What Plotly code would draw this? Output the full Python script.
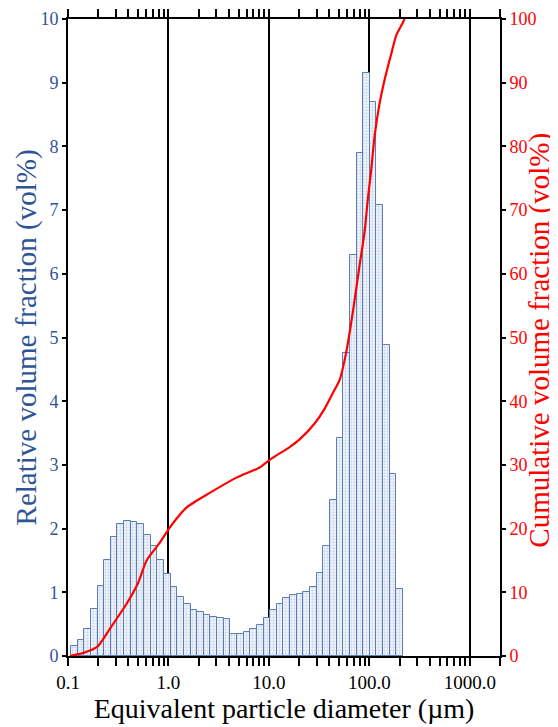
import numpy as np
import plotly.graph_objects as go

# ---- data ----
# bin edges of the volume-fraction histogram, in µm
bin_edges_um = [0.1072, 0.1248, 0.1453, 0.1692, 0.1970, 0.2294, 0.2671, 0.3110, 0.3621, 0.4216,
                0.4909, 0.5716, 0.6655, 0.7749, 0.9023, 1.051, 1.223, 1.424, 1.659, 1.931,
                2.249, 2.618, 3.049, 3.550, 4.134, 4.813, 5.604, 6.526, 7.598, 8.847,
                10.30, 12.00, 13.97, 16.27, 18.94, 22.05, 25.68, 29.90, 34.82, 40.54,
                47.21, 54.97, 64.01, 74.53, 86.78, 101.0, 117.7, 137.0, 159.5, 185.8, 216.3]
# relative volume fraction (vol%) per bin
relative_vol = [0.15, 0.25, 0.43, 0.74, 1.10, 1.51, 1.87, 2.07, 2.12, 2.11,
                2.07, 1.90, 1.72, 1.50, 1.29, 1.08, 0.93, 0.81, 0.73, 0.69,
                0.65, 0.61, 0.59, 0.58, 0.34, 0.34, 0.37, 0.43, 0.49, 0.60,
                0.73, 0.82, 0.91, 0.95, 0.98, 1.00, 1.08, 1.31, 1.72, 2.45,
                3.43, 4.76, 6.30, 7.89, 9.15, 8.70, 7.08, 4.89, 2.86, 1.05]
# cumulative curve
cum_diam_um = [0.1047, 0.144, 0.197, 0.2616, 0.3834, 0.4997, 0.6058, 0.821, 1.033, 1.513,
               2.579, 4.753, 8.10, 10.18, 12.81, 16.10, 20.24, 28.53, 35.86, 43.08,
               50.55, 58.94, 68.55, 79.91, 89.6, 96.6, 104.4, 112.6, 126.3, 141.6,
               165.1, 185.1, 215.3, 223.9]
cum_vol = [0.0, 0.5, 1.5, 4.3, 8.2, 11.5, 15.0, 17.8, 20.2, 23.3,
           25.6, 28.0, 29.6, 30.8, 31.8, 32.8, 34.0, 36.5, 38.8, 41.2,
           43.3, 47.7, 54.0, 61.3, 66.5, 71.7, 76.3, 81.5, 86.7, 90.4,
           94.5, 97.4, 99.4, 100.0]

x_tick_vals_um = [0.1, 1, 10, 100, 1000]
x_tick_text = ["0.1", "1.0", "10.0", "100.0", "1000.0"]
x_max_um = 2000

BLUE = "#2F5597"
RED = "#FF0000"
FONT = "Liberation Serif"

# ---- derived positions on a log10 scale ----
le = np.log10(np.array(bin_edges_um))
centers = (le[:-1] + le[1:]) / 2
widths = le[1:] - le[:-1]
x_range = [float(np.log10(0.1)), float(np.log10(x_max_um))]
major_vals = [float(np.log10(v)) for v in x_tick_vals_um]

minor_vals = []
for p in range(-1, 4):
    for k in range(2, 10):
        v = k * 10 ** p
        if v <= x_max_um:
            minor_vals.append(float(np.log10(v)))

fig = go.Figure()
fig.add_trace(go.Bar(
    x=centers, y=relative_vol, width=widths,
    marker=dict(color="white",
                line=dict(color="#5b7db4", width=1),
                pattern=dict(shape=".", fgcolor="#9bb3da", bgcolor="#f7f9fd",
                             size=3, solidity=0.45)),
    yaxis="y", showlegend=False,
))
fig.add_trace(go.Scatter(
    x=np.log10(np.array(cum_diam_um)), y=cum_vol, mode="lines",
    line=dict(color=RED, width=2.2, shape="spline", smoothing=0.6),
    yaxis="y2", showlegend=False,
))

# page body adds an 8px offset, so the figure is 8px smaller than the window
fig.update_layout(
    width=550, height=719,
    margin=dict(l=60, r=58, t=11, b=71, autoexpand=False),
    paper_bgcolor="white", plot_bgcolor="white",
    font=dict(family=FONT, color="black"),
    bargap=0,
    xaxis=dict(
        range=x_range,
        tickmode="array", tickvals=major_vals, ticktext=x_tick_text,
        ticks="outside", ticklen=8, tickwidth=1.5, tickcolor="black",
        minor=dict(tickvals=minor_vals, ticks="outside", ticklen=6, tickwidth=1.5,
                   tickcolor="black", showgrid=False),
        showgrid=True, gridcolor="black", gridwidth=1.5,
        showline=True, linecolor="black", linewidth=2, mirror="allticks",
        zeroline=False, automargin=False, ticklabeloverflow="allow",
        tickfont=dict(family=FONT, size=19, color="black"),
        title=dict(text="Equivalent particle diameter (µm)",
                   font=dict(family=FONT, size=28, color="black"), standoff=4),
    ),
    # inner halves of the crossing ticks on the top border
    xaxis2=dict(
        range=x_range, overlaying="x", side="top", anchor="y",
        tickmode="array", tickvals=major_vals, ticks="inside", ticklen=4,
        tickwidth=1.5, tickcolor="black", showticklabels=False,
        minor=dict(tickvals=minor_vals, ticks="inside", ticklen=4, tickwidth=1.5,
                   tickcolor="black", showgrid=False),
        showgrid=False, zeroline=False, showline=False, automargin=False,
    ),
    yaxis=dict(
        range=[0, 10], dtick=1, tick0=0,
        ticks="outside", ticklen=4, tickwidth=1.5, tickcolor="black",
        showgrid=False, zeroline=False, automargin=False, ticklabeloverflow="allow",
        showline=True, linecolor="black", linewidth=2,
        tickfont=dict(family=FONT, size=18, color=BLUE),
    ),
    yaxis2=dict(
        range=[0, 100], dtick=10, tick0=0, overlaying="y", side="right",
        ticks="outside", ticklen=4, tickwidth=1.5, tickcolor="black",
        showgrid=False, zeroline=False, automargin=False, ticklabeloverflow="allow",
        showline=True, linecolor="black", linewidth=2,
        tickfont=dict(family=FONT, size=18, color=RED),
    ),
    yaxis3=dict(
        range=[0, 10], dtick=1, tick0=0, overlaying="y", side="left", anchor="x",
        ticks="inside", ticklen=3, tickwidth=1.5, tickcolor="black",
        showticklabels=False, showgrid=False, zeroline=False, showline=False,
        automargin=False,
    ),
    yaxis4=dict(
        range=[0, 100], dtick=10, tick0=0, overlaying="y", side="right", anchor="x",
        ticks="inside", ticklen=3, tickwidth=1.5, tickcolor="black",
        showticklabels=False, showgrid=False, zeroline=False, showline=False,
        automargin=False,
    ),
    annotations=[
        dict(text="Relative volume fraction (vol%)", textangle=-90,
             xref="paper", yref="paper", x=-0.095, y=0.5,
             xanchor="center", yanchor="middle", showarrow=False,
             font=dict(family=FONT, size=29, color=BLUE)),
        dict(text="Cumulative volume fraction (vol%)", textangle=-90,
             xref="paper", yref="paper", x=1.0926, y=0.495,
             xanchor="center", yanchor="middle", showarrow=False,
             font=dict(family=FONT, size=29, color=RED)),
    ],
)

fig.write_html("out.html")
